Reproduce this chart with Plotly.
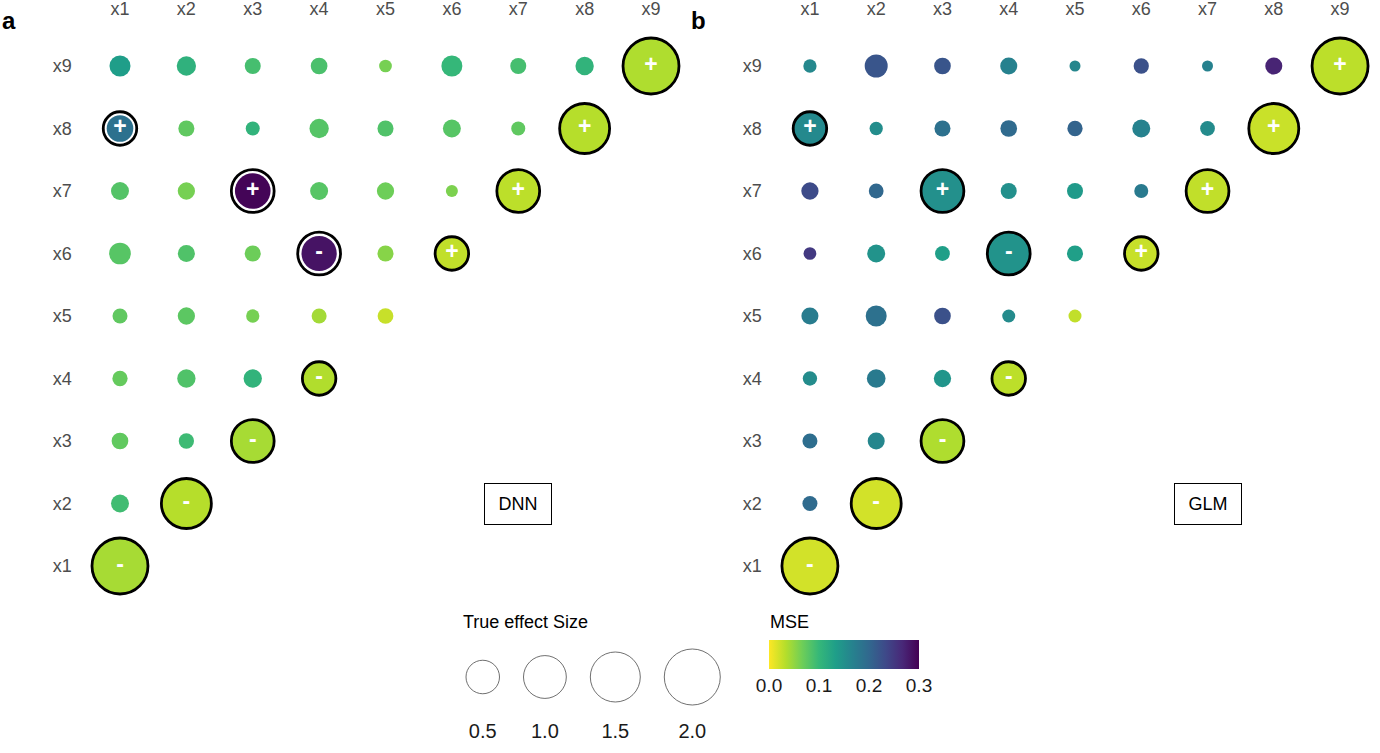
import numpy as np
import plotly.graph_objects as go

W, H = 1380, 753

var_labels = ["x1", "x2", "x3", "x4", "x5", "x6", "x7", "x8", "x9"]

# lower triangle, row xi holds columns x1..xi
dnn_mse = [
    [0.040],
    [0.093, 0.033],
    [0.074, 0.095, 0.040],
    [0.072, 0.084, 0.105, 0.035],
    [0.075, 0.077, 0.063, 0.042, 0.025],
    [0.080, 0.084, 0.068, 0.285, 0.055, 0.028],
    [0.082, 0.063, 0.297, 0.080, 0.067, 0.060, 0.030],
    [0.189, 0.075, 0.105, 0.081, 0.084, 0.080, 0.075, 0.033],
    [0.133, 0.108, 0.090, 0.087, 0.063, 0.100, 0.090, 0.105, 0.036],
]
dnn_est = [
    [2.0],
    [0.048, 1.5],
    [0.032, 0.018, 1.0],
    [0.018, 0.053, 0.053, 0.5],
    [0.016, 0.039, 0.005, 0.016, 0.022],
    [0.113, 0.036, 0.025, 0.58, 0.025, 0.5],
    [0.048, 0.039, 0.60, 0.048, 0.039, 0.001, 1.0],
    [0.24, 0.025, 0.009, 0.068, 0.025, 0.048, 0.009, 1.5],
    [0.099, 0.068, 0.025, 0.032, 0.003, 0.099, 0.025, 0.053, 2.0],
]
glm_mse = [
    [0.020],
    [0.196, 0.020],
    [0.192, 0.162, 0.036],
    [0.155, 0.177, 0.144, 0.030],
    [0.174, 0.189, 0.225, 0.156, 0.028],
    [0.249, 0.147, 0.132, 0.147, 0.132, 0.025],
    [0.231, 0.200, 0.150, 0.150, 0.138, 0.177, 0.028],
    [0.158, 0.153, 0.189, 0.196, 0.204, 0.167, 0.156, 0.024],
    [0.160, 0.220, 0.220, 0.168, 0.162, 0.225, 0.168, 0.270, 0.030],
]
glm_est = [
    [2.0],
    [0.016, 1.5],
    [0.016, 0.036, 1.0],
    [0.011, 0.058, 0.039, 0.5],
    [0.036, 0.099, 0.032, 0.004, 0.004],
    [0.003, 0.048, 0.014, 1.0, 0.025, 0.5],
    [0.039, 0.014, 1.0, 0.025, 0.025, 0.009, 1.0],
    [0.5, 0.005, 0.025, 0.032, 0.018, 0.048, 0.014, 1.5],
    [0.005, 0.142, 0.032, 0.036, 0.0, 0.018, 0.0, 0.036, 2.0],
]

true_row = [1, 2, 3, 4, 6, 7, 8, 9, 8, 7, 6]
true_col = [1, 2, 3, 4, 6, 7, 8, 9, 1, 3, 4]
true_effect = [-2.0, -1.5, -1.0, -0.5, 0.5, 1.0, 1.5, 2.0, 0.5, 1.0, -1.0]

legend_sizes = [0.5, 1.0, 1.5, 2.0]
mse_ticks = [0.0, 0.1, 0.2, 0.3]


def size_px(v):
    return 11 + 45 * np.sqrt(np.abs(np.asarray(v, dtype=float)) / 2.0)


def flatten(tri):
    rows, cols, vals = [], [], []
    for r, row in enumerate(tri, start=1):
        for c, v in enumerate(row, start=1):
            rows.append(r)
            cols.append(c)
            vals.append(v)
    return rows, cols, vals


fig = go.Figure()

panels = [("x", "y", dnn_mse, dnn_est, "DNN"), ("x2", "y2", glm_mse, glm_est, "GLM")]
for xa, ya, mse, est, name in panels:
    rows, cols, mvals = flatten(mse)
    _, _, evals = flatten(est)
    fig.add_trace(go.Scatter(
        x=cols, y=rows, mode="markers", xaxis=xa, yaxis=ya, showlegend=False,
        marker=dict(size=size_px(evals), color=mvals, coloraxis="coloraxis",
                    line=dict(width=0), opacity=1),
    ))
    # open circles for the true effects
    fig.add_trace(go.Scatter(
        x=true_col, y=true_row, mode="markers", xaxis=xa, yaxis=ya, showlegend=False,
        marker=dict(symbol="circle-open", size=size_px(true_effect), color="black",
                    line=dict(width=2.8), opacity=1),
    ))
    fig.add_trace(go.Scatter(
        x=true_col, y=true_row, mode="text", xaxis=xa, yaxis=ya, showlegend=False,
        text=["<b>+</b>" if v > 0 else "<b>-</b>" for v in true_effect],
        textfont=dict(color="white", size=23, family="Liberation Sans"),
    ))
    fig.add_annotation(
        x=7, y=2, xref=xa, yref=ya, text=name, showarrow=False,
        font=dict(size=18, color="black", family="Liberation Sans"),
        bordercolor="black", borderwidth=1, borderpad=9, width=48, height=22,
        bgcolor="white",
    )

# size legend, laid out in pixel units below the panels
key_w = size_px(legend_sizes) + 24
key_x = 454 + np.cumsum(key_w) - key_w / 2
fig.add_trace(go.Scatter(
    x=key_x, y=[677] * len(legend_sizes), mode="markers", xaxis="x3", yaxis="y3",
    showlegend=False,
    marker=dict(size=size_px(legend_sizes), color="white",
                line=dict(width=0.8, color="black")),
))
fig.add_trace(go.Scatter(
    x=key_x, y=[733] * len(legend_sizes), mode="text", xaxis="x3", yaxis="y3",
    showlegend=False, text=[f"{v:.1f}" for v in legend_sizes],
    textfont=dict(size=20, color="#1a1a1a", family="Liberation Sans"),
))

tick_font = dict(size=18, color="#4d4d4d", family="Liberation Sans")
ax_common = dict(range=[0.5, 9.5], tickvals=list(range(1, 10)), ticktext=var_labels,
                 showgrid=False, zeroline=False, showline=False, ticks="",
                 tickfont=tick_font, fixedrange=True)
y_dom = [1 - 597.25 / H, 1 - 34.75 / H]

fig.update_layout(
    width=W, height=H,
    margin=dict(l=0, r=0, t=0, b=0),
    paper_bgcolor="white", plot_bgcolor="rgba(0,0,0,0)",
    font=dict(family="Liberation Sans"),
    xaxis=dict(domain=[86.8 / W, 684.2 / W], side="top", anchor="y",
               ticklabelstandoff=15, **ax_common),
    yaxis=dict(domain=y_dom, anchor="x", ticklabelstandoff=14, **ax_common),
    xaxis2=dict(domain=[776.8 / W, 1373.2 / W], side="top", anchor="y2",
                ticklabelstandoff=15, **ax_common),
    yaxis2=dict(domain=y_dom, anchor="x2", ticklabelstandoff=14, **ax_common),
    xaxis3=dict(domain=[0, 1], range=[0, W], visible=False, anchor="y3", fixedrange=True),
    yaxis3=dict(domain=[0, 150.6 / H], range=[H, H - 150.6], visible=False,
                anchor="x3", fixedrange=True),
    coloraxis=dict(
        colorscale="Viridis", reversescale=True, cmin=0, cmax=0.3,
        colorbar=dict(
            orientation="h", x=844 / W, xanchor="center", y=1 - 640 / H, yanchor="top",
            lenmode="pixels", len=150, thickness=29, outlinewidth=0,
            xpad=0, ypad=0, tickvals=mse_ticks, ticktext=[f"{v:.1f}" for v in mse_ticks],
            tickfont=dict(size=19, color="#1a1a1a", family="Liberation Sans"),
            ticks="",
        ),
    ),
)

fig.add_annotation(x=461 / W, y=1 - 622 / H, xref="paper", yref="paper",
                   xanchor="left", yanchor="middle", showarrow=False,
                   text="True effect Size",
                   font=dict(size=18, color="black", family="Liberation Sans"))
fig.add_annotation(x=768 / W, y=1 - 622 / H, xref="paper", yref="paper",
                   xanchor="left", yanchor="middle", showarrow=False, text="MSE",
                   font=dict(size=18, color="black", family="Liberation Sans"))
fig.add_annotation(x=0, y=1 - 21 / H, xref="paper", yref="paper", xanchor="left",
                   yanchor="middle", showarrow=False, text="<b>a</b>",
                   font=dict(size=24, color="black", family="Liberation Sans"))
fig.add_annotation(x=689 / W, y=1 - 21 / H, xref="paper", yref="paper", xanchor="left",
                   yanchor="middle", showarrow=False, text="<b>b</b>",
                   font=dict(size=24, color="black", family="Liberation Sans"))

# the page body has a default 8px margin; drop it so the figure sits at the corner
fig.write_html("out.html", config={"displayModeBar": False},
               post_script="document.body.style.margin='0';")
